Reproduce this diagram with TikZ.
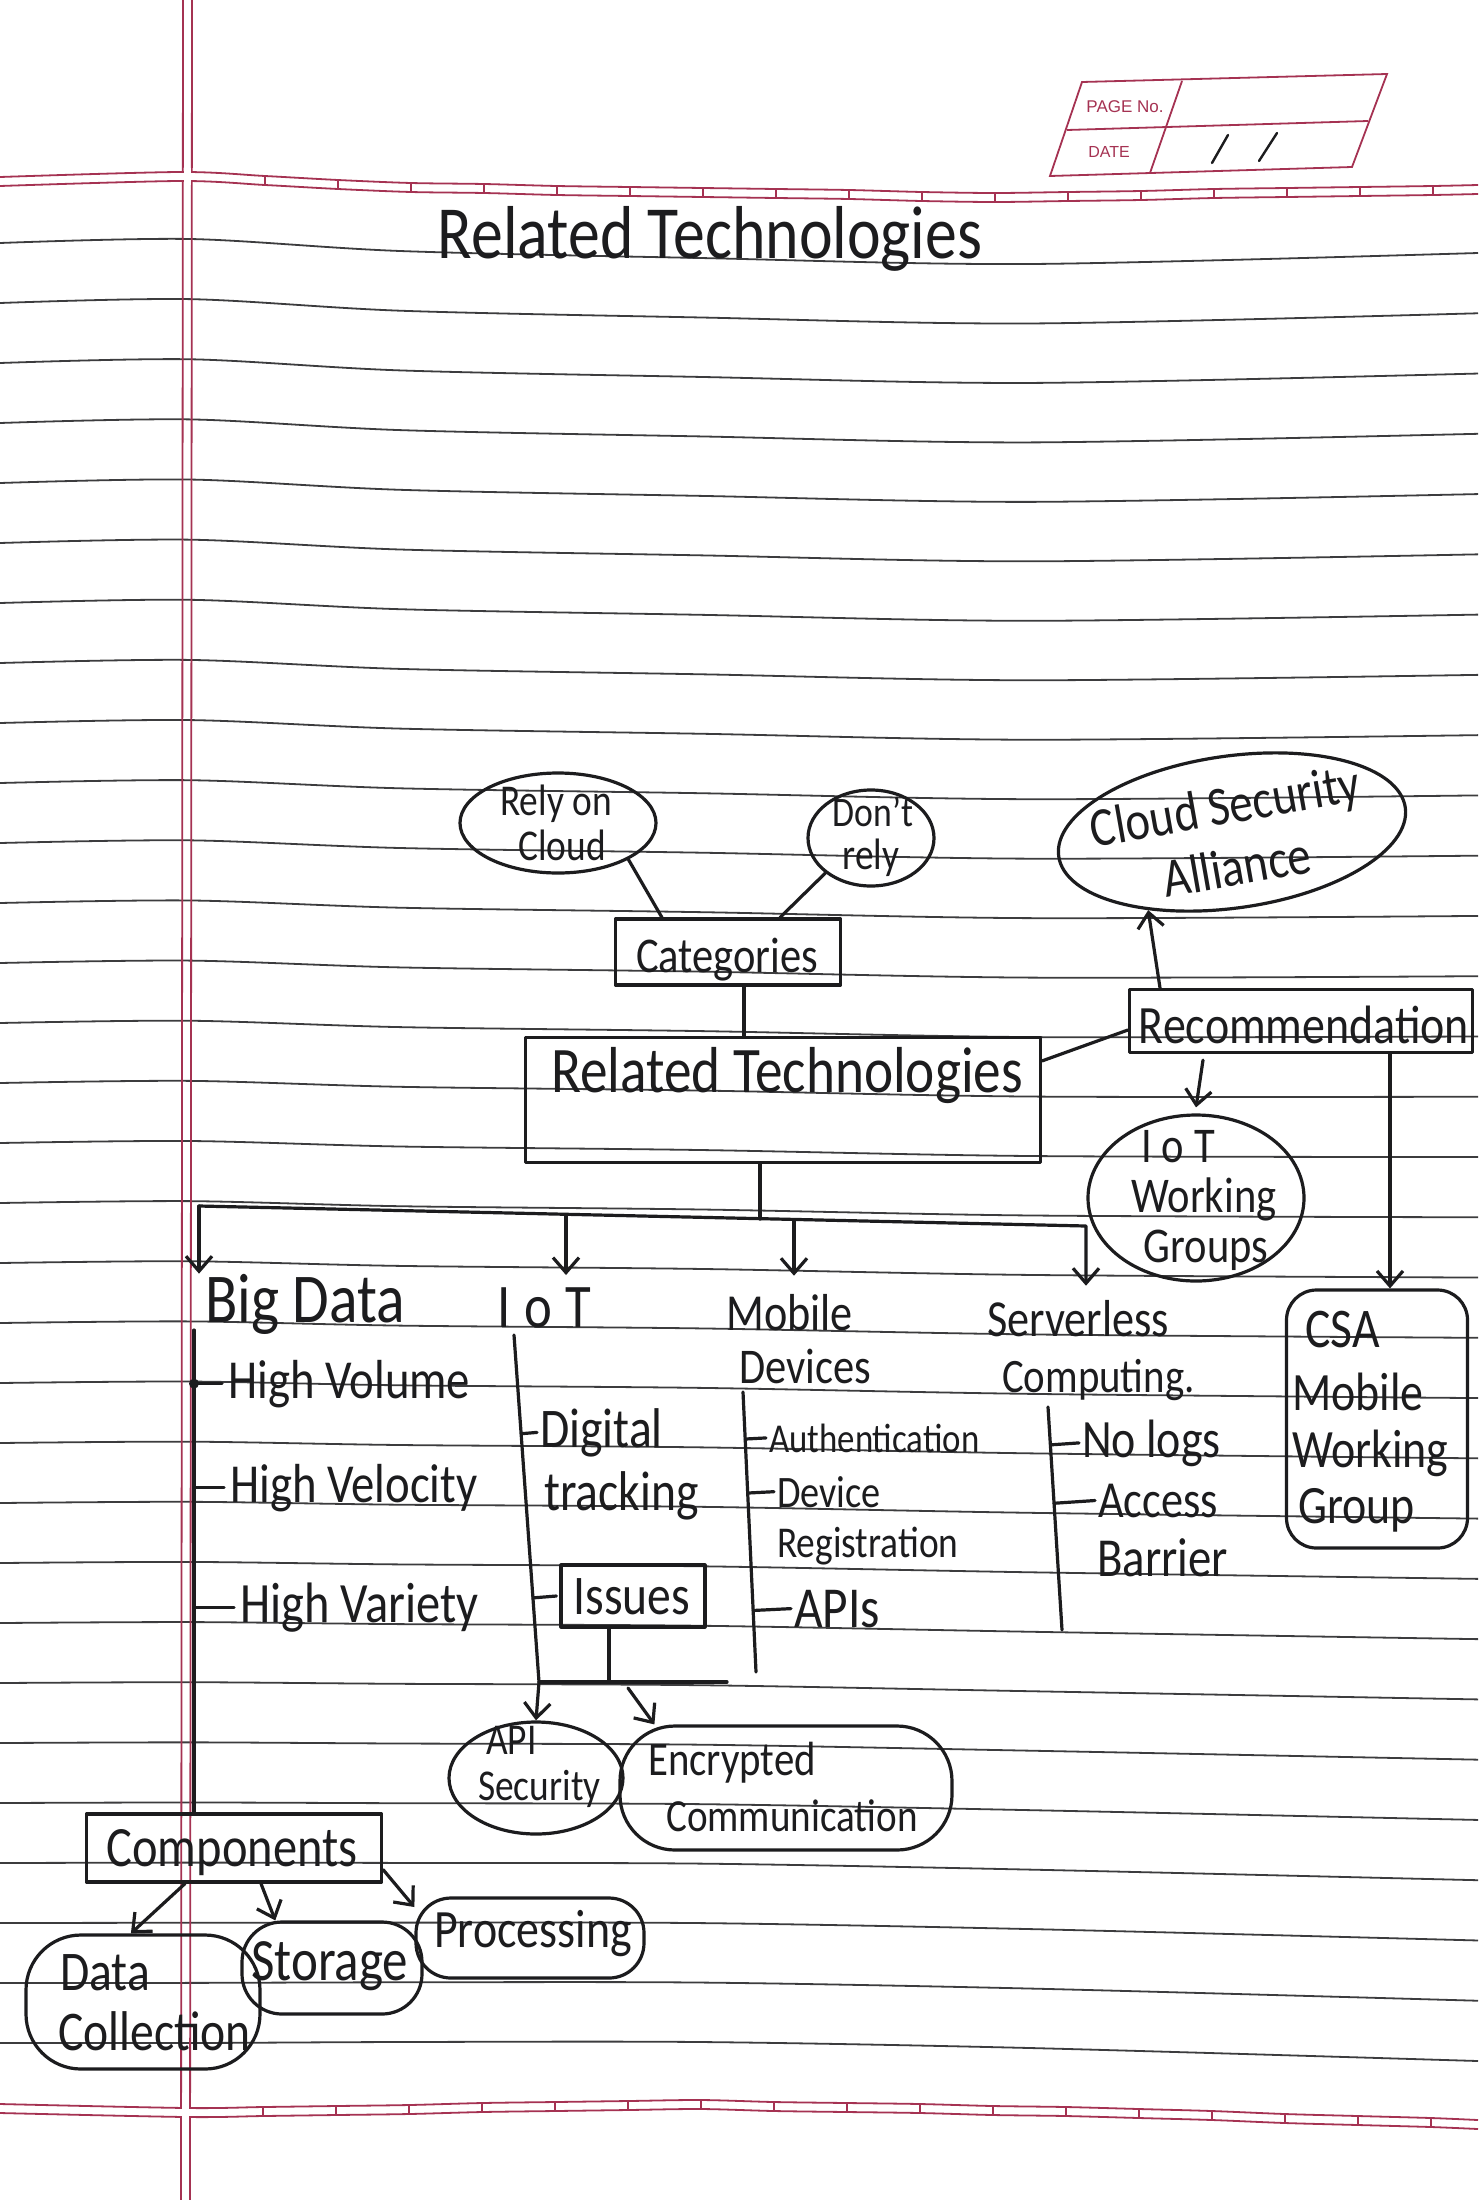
\documentclass[tikz,border=0pt]{standalone}
\usepackage{fontspec}
\setmainfont{Carlito}[FakeStretch=0.85]
\newfontfamily\imprime{Liberation Sans}
\usetikzlibrary{shapes.geometric,arrows.meta,calc}

\definecolor{encre}{RGB}{28,28,30}
\definecolor{ligne}{RGB}{60,60,62}
\definecolor{marge}{RGB}{165,50,82}
\newcommand\hsz[2]{\fontsize{#1}{#2}\selectfont}

\tikzset{
  pen/.style={draw=encre, line width=3.2pt, line cap=round, line join=round},
  fleche/.style={pen, -{Straight Barb[length=15pt,width=26pt]}},
  bulle/.style={pen, ellipse, inner sep=0pt},
  blob/.style={pen, rectangle, rounded corners=40pt, inner sep=0pt},
  cadre/.style={pen, rectangle, inner sep=0pt},
  ecrit/.style={text=encre, inner sep=0pt, anchor=base west},
  ecritc/.style={text=encre, inner sep=0pt, anchor=base},
  regle/.style={draw=ligne, line width=1.8pt},
  rouge/.style={draw=marge, line width=1.8pt},
}

\begin{document}
\begin{tikzpicture}[x=1pt,y=-1pt]  % ------ Related Technologies (page de cahier) ------
\useasboundingbox (0,0) rectangle (1478,2200);
\fill[white] (0,0) rectangle (1478,2200);

% lignes du cahier
\foreach \i in {0,...,30}{
  \pgfmathsetmacro\yA{243+60*\i}
  \pgfmathsetmacro\fr{\i/30}
  \pgfmathsetmacro\yB{\yA-4+4*\fr}
  \pgfmathsetmacro\yC{\yA+8-9*\fr}
  \pgfmathsetmacro\yD{\yA+15-16*\fr}
  \pgfmathsetmacro\yE{\yA+21-16*\fr}
  \pgfmathsetmacro\yF{\yA+10+8*\fr}
  \draw[regle] plot[smooth] coordinates {(0,\yA) (190,\yB) (400,\yC) (700,\yD) (1030,\yE) (1478,\yF)};
}

% marge, en-tete et pied
\draw[rouge] (183,0) -- (181,2200);
\draw[rouge] (192,0) -- (190,2200);
\foreach \d in {0,9}{
  \draw[rouge, yshift=-\d pt] plot[smooth] coordinates {(0,177) (180,172) (265,176) (338,180) (411,183) (484,184) (557,186) (630,187) (703,188) (776,189) (849,190) (922,192) (995,193) (1068,192) (1141,191) (1214,189) (1287,188) (1360,187) (1433,186) (1478,185)};
  \draw[rouge, yshift=-\d pt] plot[smooth] coordinates {(0,2104) (187,2108) (263,2107) (336,2106) (409,2105) (482,2103) (555,2102) (628,2101) (701,2100) (774,2102) (847,2103) (920,2104) (993,2106) (1066,2107) (1139,2109) (1212,2111) (1285,2114) (1358,2116) (1431,2118) (1478,2120)};
}
\foreach \tx/\ty in {265/176, 338/180, 411/183, 484/184, 557/186, 630/187, 703/188, 776/189, 849/190, 922/192, 995/193, 1068/192, 1141/191, 1214/189, 1287/188, 1360/187, 1433/186}
  \draw[rouge] (\tx,\ty) -- (\tx,\ty+9);
\foreach \tx/\ty in {263/2107, 336/2106, 409/2105, 482/2103, 555/2102, 628/2101, 701/2100, 774/2102, 847/2103, 920/2104, 993/2106, 1066/2107, 1139/2109, 1212/2111, 1285/2114, 1358/2116, 1431/2118}
  \draw[rouge] (\tx,\ty) -- (\tx,\ty+9);
\fill[white] (179,173.4) rectangle (195,179.6);
\fill[white] (184.2,168) rectangle (190.8,185);
\fill[white] (177,2109.4) rectangle (193,2115.6);
\fill[white] (182.3,2103) rectangle (188.9,2122);

% cartouche PAGE No. / DATE
\draw[rouge] (1082,82) -- (1387,74) -- (1352,167) -- (1050,176) -- cycle;
\draw[rouge] (1067,130) -- (1368,121);
\draw[rouge] (1182,81) -- (1150,173);
\node[text=marge, font=\imprime\hsz{17}{17}] (pg) at (1125,107) {PAGE No.};
\node[text=marge, font=\imprime\hsz{16}{16}] (dt) at (1109,152) {DATE};
\draw[pen, line width=2.4pt] (1228,135) -- (1212,163);
\draw[pen, line width=2.4pt] (1277,133) -- (1259,161);

% titre
\node[ecritc, font=\hsz{75}{75}] (titre) at (710,258) {Related Technologies};

% haut : categories et recommandation
\node[bulle, minimum width=196pt, minimum height=100pt] (rely) at (558,823) {};
\node[ecritc, font=\hsz{44}{44}] (relyA) at (556,815) {Rely on};
\node[ecritc, font=\hsz{44}{44}] (relyB) at (562,860) {Cloud};
\node[bulle, minimum width=126pt, minimum height=96pt] (dont) at (871,838) {};
\node[ecritc, font=\hsz{42}{42}] (dontA) at (873,826) {Don't};
\node[ecritc, font=\hsz{44}{44}] (dontB) at (871,869) {rely};
\node[bulle, rotate=8, minimum width=350pt, minimum height=152pt] (csa) at (1232,832) {};
\node[ecritc, font=\hsz{55}{55}, rotate=10] (csaA) at (1228,824) {Cloud Security};
\node[ecritc, font=\hsz{55}{55}, rotate=10] (csaB) at (1240,885) {Alliance};

\node[cadre, minimum width=225pt, minimum height=66pt] (cat) at (728,952) {};
\node[ecritc, font=\hsz{50}{50}] (catT) at (727,972) {Categories};
\node[cadre, minimum width=515pt, minimum height=125pt] (rt) at (783,1100) {};
\node[ecritc, font=\hsz{65}{65}] (rtT) at (787,1092) {Related Technologies};
\node[cadre, minimum width=343pt, minimum height=63pt] (rec) at (1301,1021) {};
\node[ecritc, font=\hsz{54}{54}] (recT) at (1304,1043) {Recommendation};

\node[bulle, minimum width=216pt, minimum height=166pt] (iotwg) at (1196,1198) {};
\node[ecritc, font=\hsz{50}{50}\addfontfeature{LetterSpace=20}] (wgA) at (1178,1162) {IoT};
\node[ecritc, font=\hsz{50}{50}] (wgB) at (1204,1212) {Working};
\node[ecritc, font=\hsz{50}{50}] (wgC) at (1206,1262) {Groups};

\node[cadre, rounded corners=30pt, minimum width=181pt, minimum height=258pt] (csamob) at (1377,1419) {};
\node[ecrit, font=\hsz{56}{56}] (cmA) at (1305,1347) {CSA};
\node[ecrit, font=\hsz{54}{54}] (cmB) at (1292,1410) {Mobile};
\node[ecrit, font=\hsz{54}{54}] (cmC) at (1292,1467) {Working};
\node[ecrit, font=\hsz{54}{54}] (cmD) at (1298,1523) {Group};

\draw[pen] (rely.south east) -- ([xshift=48pt]cat.north west);
\draw[pen] (dont.south west) -- ([xshift=-62pt]cat.north east);
\coordinate (c1) at ([xshift=16pt]cat.south);
\draw[pen] (c1) -- (c1 |- rt.north);
\draw[pen] ([yshift=-25pt]rt.north east) -- ([yshift=-9pt]rec.west);
\coordinate (c2) at ([xshift=-141pt]rec.north);
\draw[fleche] (c2) -- (csa.-145);
\coordinate (c3) at ([xshift=-98pt,yshift=-6pt]rec.south);
\draw[fleche] (c3) -- ([yshift=6pt]iotwg.north);
\coordinate (c4) at ([xshift=89pt]rec.south);
\draw[fleche] (c4) -- (c4 |- csamob.north);

% les quatre branches
\node[ecrit, font=\hsz{70}{70}] (bigd) at (205,1322) {Big Data};
\node[ecrit, font=\hsz{62}{62}\addfontfeature{LetterSpace=22}] (iot) at (497,1327) {IoT};
\node[ecrit, font=\hsz{52}{52}] (mob) at (726,1330) {Mobile};
\node[ecrit, font=\hsz{50}{50}] (mobB) at (739,1383) {Devices};
\node[ecrit, font=\hsz{52}{52}] (srv) at (987,1336) {Serverless};
\node[ecrit, font=\hsz{48}{48}] (srvB) at (1002,1392) {Computing.};

\coordinate (barL) at (199,1206);
\coordinate (barI) at (566,1215);
\coordinate (barM) at (760,1219);
\coordinate (barD) at (794,1220);
\coordinate (barR) at (1086,1226);
\draw[pen] (barM |- rt.south) -- (barM);
\draw[fleche, shorten >=14pt] (barL) -- (barR) -- (barR |- srv.north);
\draw[fleche] (barL) -- (barL |- bigd.north);
\draw[fleche, shorten >=12pt] (barI) -- (barI |- iot.north);
\draw[fleche, shorten >=18pt] (barD) -- (barD |- mob.north);

% Big Data
\node[ecrit, font=\hsz{55}{55}] (vol) at (228,1398) {High Volume};
\node[ecrit, font=\hsz{55}{55}] (vel) at (230,1502) {High Velocity};
\node[ecrit, font=\hsz{57}{57}] (var) at (240,1622) {High Variety};
\node[cadre, minimum width=295pt, minimum height=68pt] (comp) at (234,1848) {};
\node[ecritc, font=\hsz{57}{57}] (compT) at (232,1866) {Components};
\coordinate (bdv) at (194,1330);
\draw[pen] (bdv) -- (bdv |- comp.north);
\foreach \n in {vol,vel,var}
  \draw[pen] (bdv |- \n.west) -- ([xshift=-6pt]\n.west);
\fill[encre] (bdv |- vol.west) circle (5pt);

\node[blob, rounded corners=55pt, minimum width=234pt, minimum height=134pt] (datac) at (143,2002) {};
\node[ecrit, font=\hsz{56}{56}] (datacA) at (60,1990) {Data};
\node[ecrit, font=\hsz{56}{56}] (datacB) at (58,2050) {Collection};
\node[blob, minimum width=180pt, minimum height=92pt] (stor) at (332,1968) {};
\node[ecrit, font=\hsz{60}{60}] (storT) at (251,1980) {Storage};
\node[blob, rounded corners=35pt, minimum width=228pt, minimum height=80pt] (proc) at (530,1938) {};
\node[ecrit, font=\hsz{54}{54}] (procT) at (434,1947) {Processing};
\draw[fleche] ([xshift=-49pt]comp.south) -- (datac.100);
\draw[fleche] ([xshift=27pt]comp.south) -- (stor.140);
\draw[fleche] ([yshift=14pt]comp.south east) -- (proc.165);

% IoT
\node[ecrit, font=\hsz{56}{56}] (dig1) at (540,1447) {Digital};
\node[ecrit, font=\hsz{56}{56}] (dig2) at (544,1510) {tracking};
\node[cadre, minimum width=144pt, minimum height=62pt] (iss) at (633,1596) {};
\node[ecritc, font=\hsz{56}{56}] (issT) at (632,1614) {Issues};
\coordinate (iotv) at (514,1335);
\coordinate (iotb) at (539,1682);
\coordinate (ioth) at (727,1682);
\coordinate (issx) at (609,1682);
\coordinate (encx) at (628,1688);
\node[bulle, minimum width=174pt, minimum height=112pt] (apisec) at (536,1778) {};
\node[ecrit, font=\hsz{44}{44}] (apiA) at (486,1754) {API};
\node[ecrit, font=\hsz{44}{44}] (apiB) at (478,1800) {Security};
\node[blob, rounded corners=55pt, minimum width=332pt, minimum height=124pt] (enc) at (786,1788) {};
\node[ecrit, font=\hsz{48}{48}] (encA) at (648,1775) {Encrypted};
\node[ecrit, font=\hsz{46}{46}] (encB) at (666,1831) {Communication};
\draw[fleche] (iotv) -- (iotb) -- (apisec.north);
\draw[pen] (iotb) -- (ioth);
\draw[pen] (issx |- iss.south) -- (issx);
\draw[fleche] (encx) -- ([xshift=36pt]enc.north west);
\foreach \n in {dig1,iss}
  \draw[pen] ($(iotv)!(\n.west)!(iotb)$) -- ([xshift=-3pt]\n.west);

% Mobile Devices
\node[ecrit, font=\hsz{41}{41}] (auth) at (769,1452) {Authentication};
\node[ecrit, font=\hsz{45}{45}] (dev1) at (777,1507) {Device};
\node[ecrit, font=\hsz{44}{44}] (dev2) at (777,1557) {Registration};
\node[ecrit, font=\hsz{58}{58}] (apis) at (794,1627) {APIs};
\coordinate (mobv) at (743,1392);
\coordinate (mobb) at (756,1672);
\draw[pen] (mobv) -- (mobb);
\foreach \n in {auth,dev1,apis}
  \draw[pen] ($(mobv)!(\n.west)!(mobb)$) -- ([xshift=-3pt]\n.west);

% Serverless Computing
\node[ecrit, font=\hsz{54}{54}] (nolog) at (1082,1457) {No logs};
\node[ecrit, font=\hsz{52}{52}] (acc1) at (1098,1517) {Access};
\node[ecrit, font=\hsz{55}{55}] (acc2) at (1097,1576) {Barrier};
\coordinate (srvv) at (1048,1407);
\coordinate (srvb) at (1062,1630);
\draw[pen] (srvv) -- (srvb);
\foreach \n in {nolog,acc1}
  \draw[pen] ($(srvv)!(\n.west)!(srvb)$) -- ([xshift=-3pt]\n.west);
\end{tikzpicture}
\end{document}
